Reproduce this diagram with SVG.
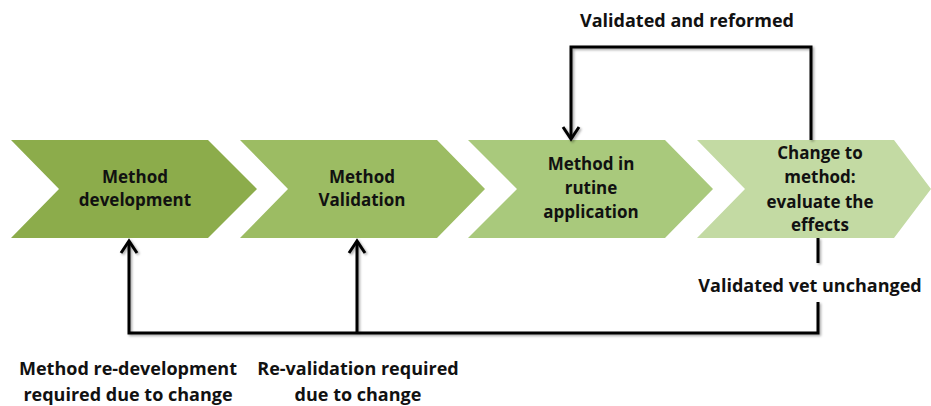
<svg xmlns="http://www.w3.org/2000/svg" width="931" height="406" viewBox="0 0 931 406">
<style>
.lbl{font-family:"Open Sans","Liberation Sans",sans-serif;font-weight:bold;font-size:17px;fill:#111;text-anchor:middle}
.out{font-family:"Open Sans","Liberation Sans",sans-serif;font-weight:bold;font-size:18px;fill:#111;text-anchor:middle}
.con{fill:none;stroke:#000;stroke-width:3;stroke-linejoin:miter}
</style>
<defs>
<marker id="ah" markerUnits="userSpaceOnUse" markerWidth="30" markerHeight="30" refX="0" refY="0" viewBox="-15 -15 30 30" orient="auto" overflow="visible">
<path d="M-12,-8 L0,0 L-12,8" fill="none" stroke="#000" stroke-width="3"/>
</marker>
<filter id="sh" x="-10%" y="-10%" width="120%" height="120%">
<feDropShadow dx="1.5" dy="1.5" stdDeviation="1" flood-color="#000" flood-opacity="0.35"/>
</filter>
</defs>
<rect width="931" height="406" fill="#fff"/>
<g id="node1">
<polygon points="11,140 208,140 257,189 208,238 11,238 59,189" fill="#8CAC4B"/>
<text class="lbl" x="135" y="183">Method</text>
<text class="lbl" x="135" y="206">development</text>
</g>
<g id="node2">
<polygon points="240,140 437,140 485,189 437,238 240,238 288,189" fill="#9CBC63"/>
<text class="lbl" x="362" y="183">Method</text>
<text class="lbl" x="362" y="206">Validation</text>
</g>
<g id="node3">
<polygon points="468,140 665,140 713,189 665,238 468,238 517,189" fill="#A9C97C"/>
<text class="lbl" x="591" y="170">Method in</text>
<text class="lbl" x="591" y="194">rutine</text>
<text class="lbl" x="591" y="218">application</text>
</g>
<g id="node4">
<polygon points="697,140 894,140 931,189 894,238 697,238 745,189" fill="#C3DAA3"/>
<text class="lbl" x="820" y="159">Change to</text>
<text class="lbl" x="820" y="183">method:</text>
<text class="lbl" x="820" y="208">evaluate the</text>
<text class="lbl" x="820" y="231">effects</text>
</g>
<g id="connectors" filter="url(#sh)">
<path class="con" d="M811,140 L811,47 L571,47 L571,139" marker-end="url(#ah)"/>
<path class="con" d="M818,238 L818,263"/>
<path class="con" d="M818,302 L818,333 L129,333 L129,241" marker-end="url(#ah)"/>
<path class="con" d="M357,333 L357,241" marker-end="url(#ah)"/>
</g>
<g id="labels">
<text class="out" x="687" y="27">Validated and reformed</text>
<text class="out" x="810" y="292">Validated vet unchanged</text>
<text class="out" x="128" y="375">Method re-development</text>
<text class="out" x="128" y="401">required  due to change</text>
<text class="out" x="358" y="375">Re-validation required</text>
<text class="out" x="358" y="401">due to change</text>
</g>
</svg>
